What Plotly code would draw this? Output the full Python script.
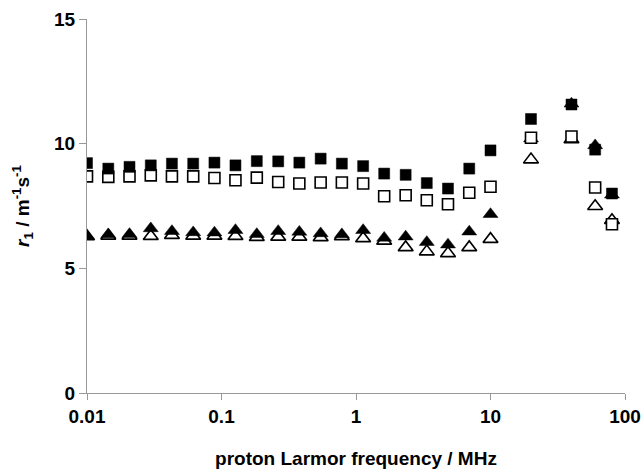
import plotly.graph_objects as go

freq = [0.01, 0.0144, 0.0207, 0.0298, 0.0428, 0.0616, 0.0886, 0.127, 0.183, 0.264,
        0.379, 0.546, 0.785, 1.13, 1.62, 2.34, 3.36, 4.83, 6.95, 10.0,
        20, 40, 60, 80]

filled_sq = [9.22, 9.00, 9.07, 9.13, 9.20, 9.20, 9.24, 9.13, 9.30, 9.29,
             9.24, 9.40, 9.20, 9.10, 8.80, 8.75, 8.42, 8.20, 9.00, 9.73,
             10.99, 11.57, 9.76, 8.00]
open_sq = [8.69, 8.67, 8.69, 8.73, 8.69, 8.69, 8.62, 8.53, 8.64, 8.46,
           8.40, 8.44, 8.44, 8.40, 7.89, 7.93, 7.73, 7.57, 8.03, 8.27,
           10.24, 10.29, 8.24, 6.77]
filled_tri = [6.29, 6.36, 6.37, 6.60, 6.49, 6.44, 6.43, 6.53, 6.37, 6.49,
              6.46, 6.40, 6.36, 6.53, 6.22, 6.27, 6.05, 5.95, 6.47, 7.17,
              10.20, 11.60, 9.93, 7.95]
open_tri = [6.28, 6.30, 6.30, 6.29, 6.33, 6.30, 6.30, 6.29, 6.25, 6.26,
            6.26, 6.24, 6.28, 6.20, 6.10, 5.84, 5.67, 5.60, 5.84, 6.17,
            9.36, 10.17, 7.49, 6.93]

FONT = "Liberation Sans, Arial, sans-serif"

fig = go.Figure()
fig.add_trace(go.Scatter(x=freq, y=open_tri, mode="markers", name="open triangles",
                         marker=dict(symbol="triangle-up", size=13, color="white",
                                     line=dict(color="black", width=1.6))))
fig.add_trace(go.Scatter(x=freq, y=filled_tri, mode="markers", name="filled triangles",
                         marker=dict(symbol="triangle-up", size=13, color="black",
                                     line=dict(color="black", width=0.5))))
fig.add_trace(go.Scatter(x=freq, y=open_sq, mode="markers", name="open squares",
                         marker=dict(symbol="square", size=11, color="white",
                                     line=dict(color="black", width=1.6))))
fig.add_trace(go.Scatter(x=freq, y=filled_sq, mode="markers", name="filled squares",
                         marker=dict(symbol="square", size=11, color="black",
                                     line=dict(color="black", width=0.5))))

fig.update_layout(
    width=642, height=469,
    margin=dict(l=87, r=17, t=19, b=76),
    paper_bgcolor="white", plot_bgcolor="white",
    showlegend=False,
    font=dict(family=FONT, color="black"),
    xaxis=dict(
        type="log", range=[-2, 2], automargin=False,
        tickvals=[0.01, 0.1, 1, 10, 100],
        ticktext=["0.01", "0.1", "1", "10", "100"],
        showgrid=False, zeroline=False,
        showline=True, linecolor="#999999", linewidth=1,
        ticks="outside", ticklen=6, tickcolor="#999999",
        tickfont=dict(size=19, weight="bold", family=FONT),
        title=dict(text="proton Larmor frequency / MHz",
                   font=dict(size=19, weight="bold", family=FONT), standoff=27),
    ),
    yaxis=dict(
        range=[0, 15], automargin=False,
        tickvals=[0, 5, 10, 15],
        showgrid=False, zeroline=False,
        showline=True, linecolor="#999999", linewidth=1,
        ticks="outside", ticklen=7, tickcolor="#999999",
        tickfont=dict(size=19, weight="bold", family=FONT),
        title=dict(text="<i>r</i><sub>1</sub> / m<sup>-1</sup>s<sup>-1</sup>",
                   font=dict(size=19, weight="bold", family=FONT), standoff=19),
    ),
)

fig.write_html("out.html",
               config={"displayModeBar": False},
               post_script="document.body.style.margin='0';document.body.style.overflow='hidden';")
